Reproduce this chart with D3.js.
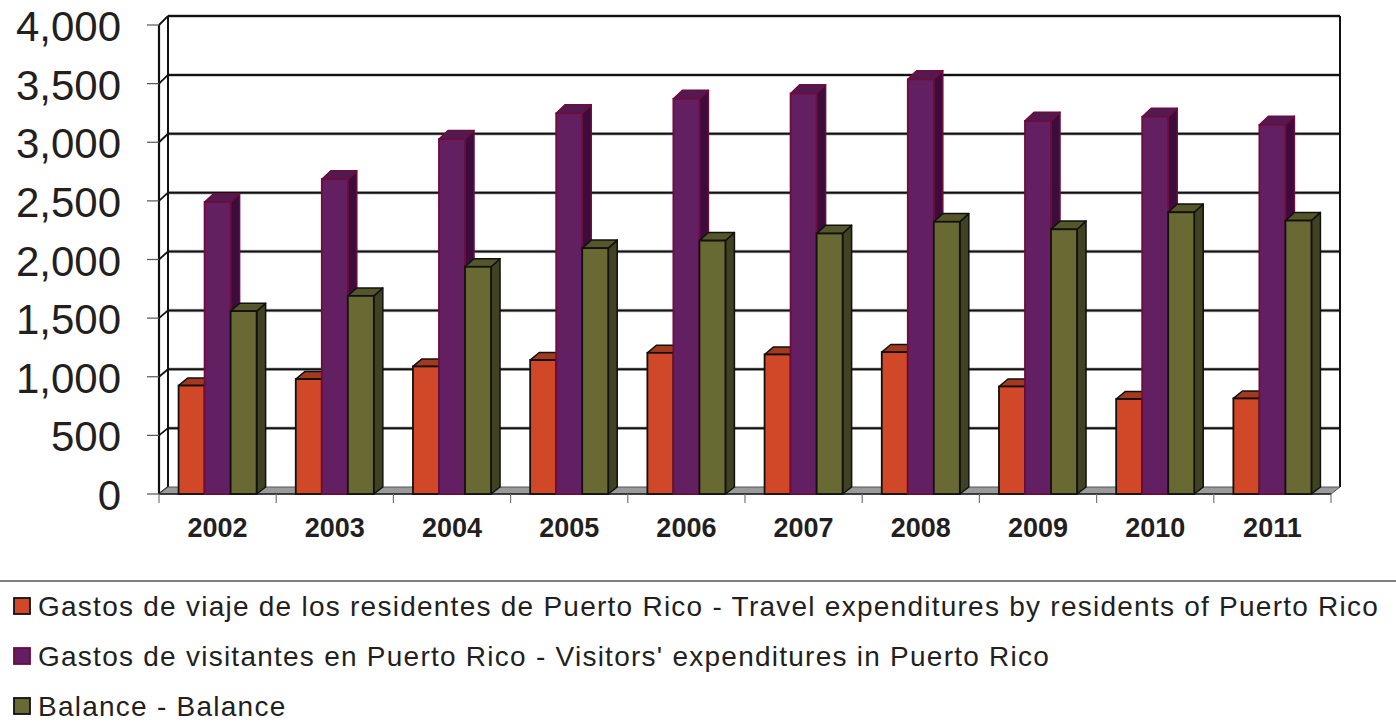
<!DOCTYPE html>
<html>
<head>
<meta charset="utf-8">
<script src="https://cdn.jsdelivr.net/npm/d3@7"></script>
<style>
  body { margin: 0; background: #fff; }
  svg { display: block; font-family: "Liberation Sans", Arial, sans-serif; }
</style>
</head>
<body>
<svg id="chart" width="1396" height="728"></svg>
<script>
// data
const years = ["2002", "2003", "2004", "2005", "2006", "2007", "2008", "2009", "2010", "2011"];
const residents = [925, 980, 1088, 1142, 1204, 1190, 1210, 917, 810, 815];
const visitors = [2490, 2685, 3027, 3247, 3370, 3416, 3536, 3182, 3217, 3148];
const balance = [1560, 1690, 1938, 2097, 2161, 2222, 2322, 2258, 2403, 2332];
const yTicks = [0, 500, 1000, 1500, 2000, 2500, 3000, 3500, 4000];
const seriesNames = [
  "Gastos de viaje de los residentes de Puerto Rico - Travel expenditures by residents of Puerto Rico",
  "Gastos de visitantes en Puerto Rico - Visitors' expenditures in Puerto Rico",
  "Balance - Balance"
];

const series = [
  { name: seriesNames[0], values: residents, front: "#d04827", side: "#8f3119", top: "#a33a1f", stroke: "#111" },
  { name: seriesNames[1], values: visitors, front: "#622063", side: "#3c0c3d", top: "#521a50", stroke: "#6e0c3c" },
  { name: seriesNames[2], values: balance, front: "#686933", side: "#414221", top: "#55572a", stroke: "#111" }
];

const svg = d3.select("#chart");
const DX = 9, DY = 7;
const x0 = 159, x1 = 1331;

let yFront = d3.scaleLinear().domain([0, 4000]).range([494, 25]);
let yBack = d3.scaleLinear().domain([0, 4000]).range([487, 16]);

let xBand = d3.scaleBand().domain(years).range([x0, x1]).paddingInner(0.334).paddingOuter(0.167);
let xSeries = d3.scaleBand().domain(d3.range(series.length)).range([0, xBand.bandwidth()]);

const grid = svg.append("g");

// back wall gridlines
grid.selectAll(".gridB")
  .data(yTicks.filter(d => d > 0))
  .enter()
  .append("line")
  .attr("x1", x0 + DX).attr("x2", x1 + DX)
  .attr("y1", d => yBack(d)).attr("y2", d => yBack(d))
  .attr("stroke", "#bbb").attr("stroke-width", 3.5);
grid.selectAll(".gridB2")
  .data(yTicks.filter(d => d > 0))
  .enter()
  .append("line")
  .attr("x1", x0 + DX).attr("x2", x1 + DX)
  .attr("y1", d => yBack(d)).attr("y2", d => yBack(d))
  .attr("stroke", "#111").attr("stroke-width", 2);

// left wall gridlines (diagonals)
grid.selectAll(".gridL")
  .data(yTicks)
  .enter()
  .append("line")
  .attr("x1", x0).attr("x2", x0 + DX)
  .attr("y1", d => yFront(d)).attr("y2", d => yBack(d))
  .attr("stroke", "#111").attr("stroke-width", 1.8);

// walls edges
grid.append("line")
  .attr("x1", x0 + DX).attr("x2", x0 + DX)
  .attr("y1", yBack(4000)).attr("y2", yBack(0))
  .attr("stroke", "#111").attr("stroke-width", 2);
grid.append("line")
  .attr("x1", x1 + DX).attr("x2", x1 + DX)
  .attr("y1", yBack(4000)).attr("y2", yBack(0))
  .attr("stroke", "#111").attr("stroke-width", 2);
grid.append("line")
  .attr("x1", x0).attr("x2", x0)
  .attr("y1", yFront(4000)).attr("y2", yFront(0))
  .attr("stroke", "#111").attr("stroke-width", 2.2);

// floor
grid.append("polygon")
  .attr("points", [[x0, yFront(0)], [x1, yFront(0)], [x1 + DX, yBack(0)], [x0 + DX, yBack(0)]].map(p => p.join(",")).join(" "))
  .attr("fill", "#9a9a9a")
  .attr("stroke", "#555")
  .attr("stroke-width", 1);
grid.append("line")
  .attr("x1", x0).attr("x2", x1)
  .attr("y1", yFront(0)).attr("y2", yFront(0))
  .attr("stroke", "#222").attr("stroke-width", 1.5);

// y axis ticks and labels
grid.selectAll(".ytick")
  .data(yTicks)
  .enter()
  .append("line")
  .attr("x1", x0 - 12).attr("x2", x0)
  .attr("y1", d => yFront(d)).attr("y2", d => yFront(d))
  .attr("stroke", "#555").attr("stroke-width", 1.2);

svg.selectAll(".ylab")
  .data(yTicks)
  .enter()
  .append("text")
  .attr("x", 121)
  .attr("y", d => yFront(d) + 16)
  .attr("text-anchor", "end")
  .attr("font-size", 42)
  .attr("fill", "#231f20")
  .text(d => d3.format(",")(d));

// x axis ticks at band edges
let edges = years.map(d => xBand(d) - xBand.step() * xBand.paddingInner() / 2).concat([x1]);
grid.selectAll(".xtick")
  .data(edges)
  .enter()
  .append("line")
  .attr("x1", d => d).attr("x2", d => d)
  .attr("y1", yFront(0)).attr("y2", yFront(0) + 9)
  .attr("stroke", "#777").attr("stroke-width", 1.2);

svg.selectAll(".xlab")
  .data(years)
  .enter()
  .append("text")
  .attr("x", d => xBand(d) + xBand.bandwidth() / 2)
  .attr("y", 537)
  .attr("text-anchor", "middle")
  .attr("font-size", 27)
  .attr("font-weight", "bold")
  .attr("fill", "#231f20")
  .text(d => d);

// 3d bars
const bars = svg.append("g");
years.forEach((yr, i) => {
  series.forEach((s, j) => {
    let v = s.values[i];
    let bx = xBand(yr) + xSeries(j);
    let bw = xSeries.bandwidth();
    let g = bars.append("g");
    // side
    g.append("polygon")
      .attr("points", [[bx + bw, yFront(v)], [bx + bw + DX, yBack(v)], [bx + bw + DX, yBack(0)], [bx + bw, yFront(0)]].map(p => p.join(",")).join(" "))
      .attr("fill", s.side).attr("stroke", s.stroke).attr("stroke-width", 1.5).attr("stroke-linejoin", "round");
    // top
    g.append("polygon")
      .attr("points", [[bx, yFront(v)], [bx + DX, yBack(v)], [bx + bw + DX, yBack(v)], [bx + bw, yFront(v)]].map(p => p.join(",")).join(" "))
      .attr("fill", s.top).attr("stroke", s.stroke).attr("stroke-width", 1.5).attr("stroke-linejoin", "round");
    // front
    g.append("rect")
      .attr("x", bx).attr("y", yFront(v))
      .attr("width", bw).attr("height", yFront(0) - yFront(v))
      .attr("fill", s.front).attr("stroke", s.stroke).attr("stroke-width", 1.8);
  });
});

// legend
svg.append("line")
  .attr("x1", 0).attr("x2", 1396)
  .attr("y1", 581).attr("y2", 581)
  .attr("stroke", "#555").attr("stroke-width", 1.5);

const legend = svg.selectAll(".leg")
  .data(series)
  .enter()
  .append("g")
  .attr("transform", (d, i) => `translate(0, ${616 + i * 50})`);

legend.append("rect")
  .attr("x", 14).attr("y", -18)
  .attr("width", 16).attr("height", 16)
  .attr("fill", d => d.front)
  .attr("stroke", d => d.stroke)
  .attr("stroke-width", 1.8);

legend.append("text")
  .attr("x", 38).attr("y", 0)
  .attr("font-size", 28)
  .attr("letter-spacing", 1.25)
  .attr("fill", "#231f20")
  .text(d => d.name);
</script>
</body>
</html>
